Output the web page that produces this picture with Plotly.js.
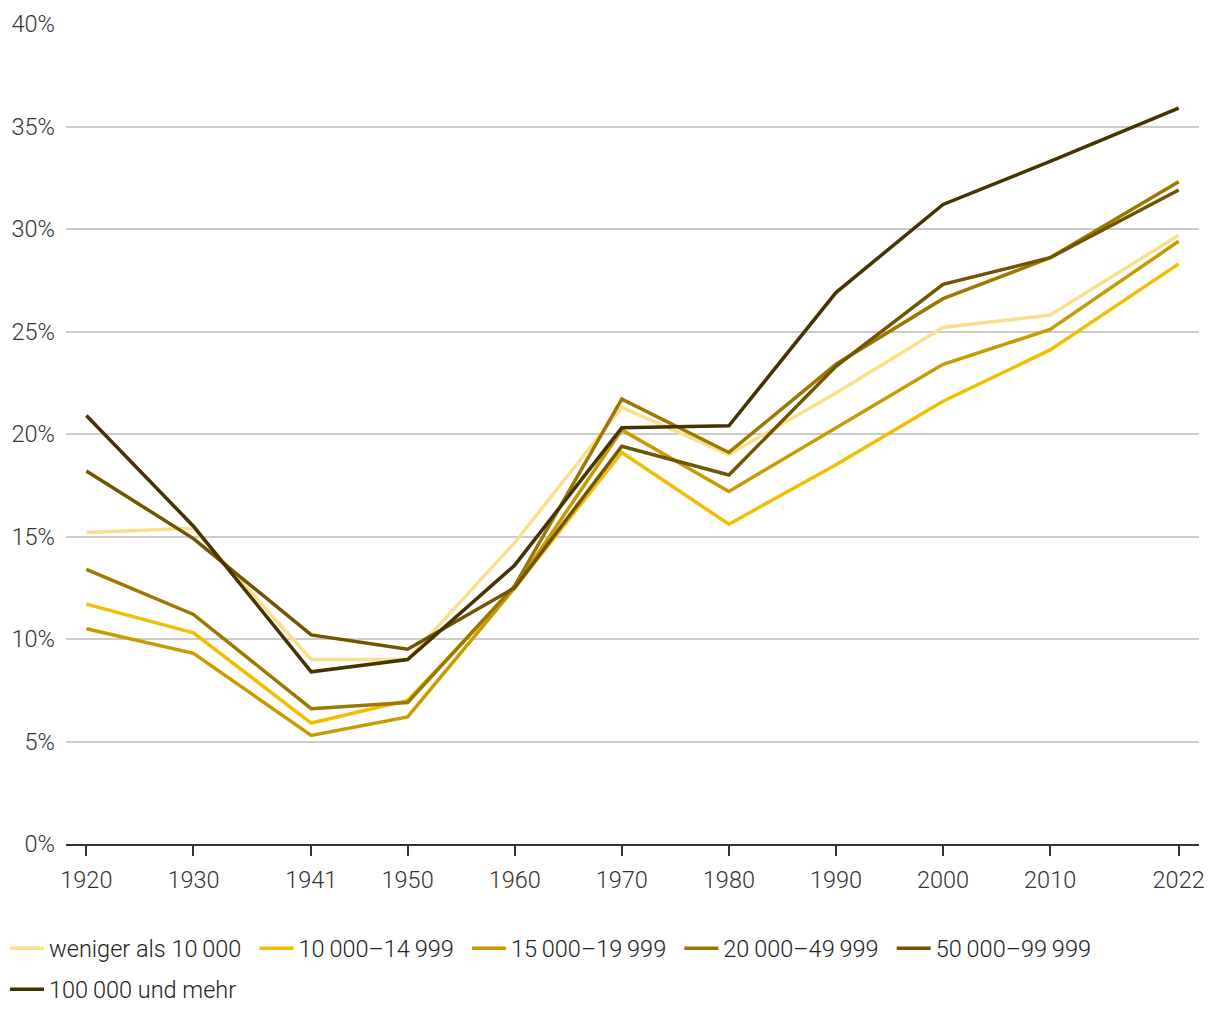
<!DOCTYPE html>
<html>
<head>
<meta charset="utf-8">
<script src="https://cdn.plot.ly/plotly-3.0.1.min.js"></script>
<style>
  html, body { margin: 0; padding: 0; background: #fff; }
  #chart { width: 1220px; height: 1020px; }
</style>
</head>
<body>
<div id="chart"></div>
<script>
const years = [1920, 1930, 1941, 1950, 1960, 1970, 1980, 1990, 2000, 2010, 2022];
const yearLabels = ["1920", "1930", "1941", "1950", "1960", "1970", "1980", "1990", "2000", "2010", "2022"];

const seriesNames = [
  "weniger als 10\u2009000",
  "10\u2009000\u201314\u2009999",
  "15\u2009000\u201319\u2009999",
  "20\u2009000\u201349\u2009999",
  "50\u2009000\u201399\u2009999",
  "100\u2009000 und mehr"
];

const under10k   = [15.2, 15.4, 9.0, 9.0, 14.7, 21.3, 19.0, 22.0, 25.2, 25.8, 29.7];
const s10to15k   = [11.7, 10.3, 5.9, 7.0, 12.5, 19.1, 15.6, 18.5, 21.6, 24.1, 28.3];
const s15to20k   = [10.5, 9.3, 5.3, 6.2, 12.5, 20.2, 17.2, 20.3, 23.4, 25.1, 29.4];
const s20to50k   = [13.4, 11.2, 6.6, 6.9, 12.6, 21.7, 19.1, 23.4, 26.6, 28.6, 32.3];
const s50to100k  = [18.2, 14.9, 10.2, 9.5, 12.5, 19.4, 18.0, 23.3, 27.3, 28.6, 31.9];
const over100k   = [20.9, 15.5, 8.4, 9.0, 13.6, 20.3, 20.4, 26.9, 31.2, 33.3, 35.9];

const yTickVals = [0, 5, 10, 15, 20, 25, 30, 35, 40];
const yTickText = ["0%", "5%", "10%", "15%", "20%", "25%", "30%", "35%", "40%"];

const seriesValues = [under10k, s10to15k, s15to20k, s20to50k, s50to100k, over100k];
const colors = ["#F8E08C", "#F1BE00", "#C89C00", "#9C7800", "#6F5500", "#453300"];
const legendIds = ["legend", "legend", "legend", "legend", "legend", "legend2"];
// trailing spacing so legend entries are spaced like the original
const legendPad = "\u00a0\u200a";

const traces = seriesValues.map((vals, i) => ({
  type: "scatter",
  mode: "lines",
  x: years,
  y: vals,
  name: seriesNames[i] + legendPad,
  legend: legendIds[i],
  line: { color: colors[i], width: 3.5 },
  hovertemplate: "%{x}: %{y:.1f}%<extra>" + seriesNames[i] + "</extra>"
}));

const FONT = "Roboto, 'Open Sans', sans-serif";
const FS = 23.5;

const legendCommon = {
  orientation: "h",
  xref: "container",
  yref: "container",
  x: 0.0041,
  xanchor: "left",
  yanchor: "top",
  font: { family: FONT, size: FS, color: "#222222", weight: 300 },
  traceorder: "normal",
  itemwidth: 34,
  bgcolor: "rgba(0,0,0,0)"
};

const layout = {
  width: 1220,
  height: 1020,
  paper_bgcolor: "#ffffff",
  plot_bgcolor: "#ffffff",
  margin: { l: 66, r: 21, t: 24, b: 176, pad: 0, autoexpand: false },
  font: { family: FONT, size: FS, color: "#333333", weight: 300 },
  showlegend: true,
  legend: Object.assign({}, legendCommon, { y: 0.0917 }),
  legend2: Object.assign({}, legendCommon, { y: 0.0515 }),
  xaxis: {
    type: "linear",
    range: [1918.1, 2023.9],
    tickmode: "array",
    tickvals: years,
    ticktext: yearLabels,
    ticks: "outside",
    ticklen: 10,
    tickwidth: 2,
    tickcolor: "#333333",
    showline: true,
    linecolor: "#333333",
    linewidth: 2,
    showgrid: false,
    zeroline: false,
    ticklabelstandoff: 4,
    automargin: false,
    tickfont: { family: FONT, size: FS, color: "#333333", weight: 300 },
    fixedrange: true
  },
  yaxis: {
    range: [0, 40],
    tickmode: "array",
    tickvals: yTickVals,
    ticktext: yTickText,
    ticks: "",
    showline: false,
    showgrid: true,
    gridcolor: "#cccccc",
    gridwidth: 1.5,
    zeroline: false,
    ticklabelstandoff: 10,
    automargin: false,
    tickfont: { family: FONT, size: FS, color: "#333333", weight: 300 },
    fixedrange: true
  }
};

Plotly.newPlot("chart", traces, layout, { displayModeBar: false, responsive: false });
</script>
</body>
</html>
